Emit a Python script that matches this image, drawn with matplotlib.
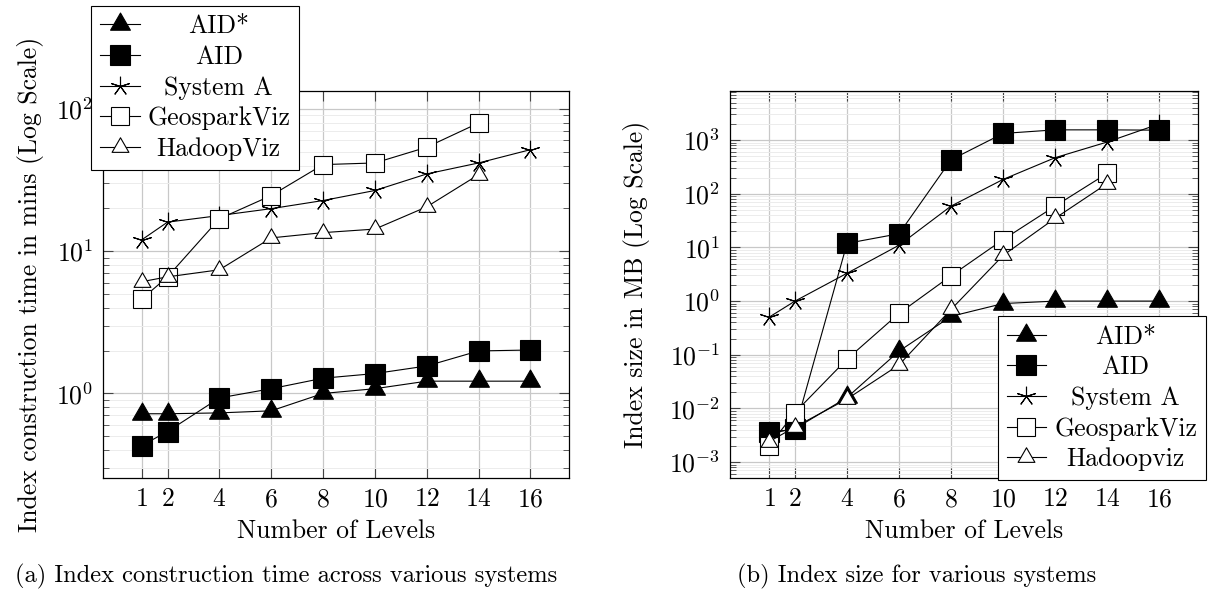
import numpy as np
import matplotlib
matplotlib.use('Agg')
import matplotlib.pyplot as plt
from matplotlib.path import Path
from matplotlib.ticker import LogLocator, FuncFormatter, NullFormatter

plt.rcParams['font.family'] = 'cmr10'
plt.rcParams['mathtext.fontset'] = 'cm'
plt.rcParams['axes.formatter.use_mathtext'] = True
plt.rcParams['font.size'] = 18.5

# number of levels
levels = [1, 2, 4, 6, 8, 10, 12, 14, 16]
levels_short = [1, 2, 4, 6, 8, 10, 12, 14]

# (a) index construction time, mins
time_aid_star = [0.72, 0.72, 0.73, 0.755, 1.0, 1.08, 1.22, 1.22, 1.22]
time_aid = [0.43, 0.54, 0.93, 1.08, 1.28, 1.38, 1.56, 1.99, 2.02]
time_system_a = [12, 16, 17.8, 19.9, 22.7, 26.7, 34.9, 41.7, 51.7]
time_geospark = [4.6, 6.6, 16.9, 24.6, 40.6, 41.7, 53.8, 79.6]
time_hadoop = [6.1, 6.6, 7.4, 12.4, 13.5, 14.3, 20.5, 34.5]

# (b) index size, MB
size_aid_star = [0.0034, 0.0042, 0.016, 0.117, 0.52, 0.9, 1.0, 1.0, 1.0]
size_aid = [0.0036, 0.0041, 11.9, 18, 430, 1330, 1550, 1550, 1530]
size_system_a = [0.5, 1.0, 3.3, 11, 59, 185, 470, 920, 2000]
size_geospark = [0.002, 0.0084, 0.083, 0.59, 2.97, 14, 59, 240]
size_hadoop = [0.0024, 0.0045, 0.015, 0.065, 0.7, 7.1, 35, 155]

tri = Path([(0, 1), (-0.866, -0.5), (0.866, -0.5), (0, 1)], closed=True)


def draw_panel(ax, d_star, d_aid, d_sysa, d_geo, d_had, names):
    ax.plot(levels, d_star, color='black', lw=0.8, marker=tri, ms=16.5,
            mfc='black', mec='black', mew=0.8, label=names[0])
    ax.plot(levels, d_aid, color='black', lw=0.8, marker='s', ms=14,
            mfc='black', mec='black', mew=0.8, label=names[1])
    ax.plot(levels, d_sysa, color='black', lw=0.8, marker=(5, 2, 0), ms=14,
            mec='black', mew=0.8, label=names[2])
    ax.plot(levels_short, d_geo, color='black', lw=0.8, marker='s', ms=13.5,
            mfc='white', mec='black', mew=0.8, label=names[3])
    ax.plot(levels_short, d_had, color='black', lw=0.8, marker=tri, ms=14,
            mfc='white', mec='black', mew=0.8, label=names[4])

    ax.set_yscale('log')
    ax.set_xlim(-0.5, 17.5)
    ax.set_xticks(levels)
    ax.yaxis.set_major_locator(LogLocator(base=10, numticks=20))
    ax.yaxis.set_minor_locator(LogLocator(base=10, subs=np.arange(2, 10), numticks=20))
    ax.yaxis.set_major_formatter(FuncFormatter(lambda v, _: r'$10^{%d}$' % int(round(np.log10(v)))))
    ax.yaxis.set_minor_formatter(NullFormatter())
    ax.set_axisbelow(True)
    ax.grid(which='major', color='#c8c8c8', lw=0.9)
    ax.grid(which='minor', axis='y', color='#ececec', lw=0.7)
    ax.tick_params(which='both', direction='in', top=True, right=True, color='#444444')
    ax.tick_params(which='major', length=7, width=0.8, pad=7)
    ax.tick_params(which='minor', length=4, width=0.6)
    for s in ax.spines.values():
        s.set_linewidth(0.9)
    ax.set_xlabel('Number of Levels')


fig = plt.figure(figsize=(12.17, 5.92), dpi=100)
ax1 = fig.add_axes([0.0844, 0.1931, 0.3834, 0.6537])
ax2 = fig.add_axes([0.5998, 0.1931, 0.3848, 0.6537])

draw_panel(ax1, time_aid_star, time_aid, time_system_a, time_geospark, time_hadoop,
           ['AID*', 'AID', 'System A', 'GeosparkViz', 'HadoopViz'])
draw_panel(ax2, size_aid_star, size_aid, size_system_a, size_geospark, size_hadoop,
           ['AID*', 'AID', 'System A', 'GeosparkViz', 'Hadoopviz'])

ax1.set_ylim(10 ** -0.592, 10 ** 2.128)
ax2.set_ylim(10 ** -3.29, 10 ** 3.92)

ax1.set_ylabel('Index construction time in mins (Log Scale)')
ax2.set_ylabel('Index size in MB (Log Scale)')
ax1.yaxis.set_label_coords(-0.125, 0.5)
ax2.yaxis.set_label_coords(-0.17, 0.5)
ax1.xaxis.set_label_coords(0.5, -0.107)
ax2.xaxis.set_label_coords(0.5, -0.107)

legs = []
for ax, anchor in [(ax1, (-0.0257, 1.2196)), (ax2, (0.5714, 0.4178))]:
    leg = ax.legend(loc='upper left', bbox_to_anchor=anchor, borderaxespad=0,
                    handlelength=1.55, handletextpad=0.3, borderpad=0.35,
                    labelspacing=0.27, fancybox=False, framealpha=1,
                    edgecolor='black')
    leg.get_frame().set_linewidth(0.8)
    leg.set_zorder(10)
    legs.append(leg)

fig.text(285.7 / 1217, 0.026, '(a) Index construction time across various systems',
         ha='center', va='center', fontsize=17.6)
fig.text(917 / 1217, 0.026, '(b) Index size for various systems',
         ha='center', va='center', fontsize=17.6)

# centre the legend texts like pgfplots does
fig.canvas.draw()
r = fig.canvas.get_renderer()
for leg in legs:
    ws = [t.get_window_extent(r).width for t in leg.get_texts()]
    for t, w in zip(leg.get_texts(), ws):
        t.set_x((max(ws) - w) / 2)

fig.savefig('out.png', dpi=100)
